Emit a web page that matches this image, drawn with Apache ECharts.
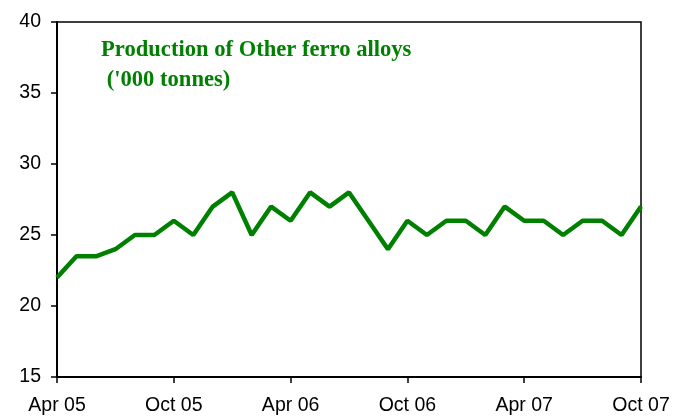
<!DOCTYPE html>
<html>
<head>
<meta charset="utf-8">
<script src="https://cdn.jsdelivr.net/npm/echarts@6/dist/echarts.min.js"></script>
<style>
  html, body { margin: 0; padding: 0; background: #fff; }
  #chart { width: 679px; height: 418px; }
</style>
</head>
<body>
<div id="chart"></div>
<script>
// Monthly production, Apr 2005 – Oct 2007
const months = [
  'Apr 05','May 05','Jun 05','Jul 05','Aug 05','Sep 05','Oct 05','Nov 05','Dec 05','Jan 06','Feb 06','Mar 06',
  'Apr 06','May 06','Jun 06','Jul 06','Aug 06','Sep 06','Oct 06','Nov 06','Dec 06','Jan 07','Feb 07','Mar 07',
  'Apr 07','May 07','Jun 07','Jul 07','Aug 07','Sep 07','Oct 07'
];
const production = [
  22, 23.5, 23.5, 24, 25, 25, 26, 25, 27, 28, 25, 27,
  26, 28, 27, 28, 26, 24, 26, 25, 26, 26, 25, 27,
  26, 26, 25, 26, 26, 25, 27
];
const titleLines = ['Production of Other ferro alloys', " ('000 tonnes)"];

const chart = echarts.init(document.getElementById('chart'));
chart.setOption({
  animation: false,
  backgroundColor: '#fff',
  grid: {
    left: 57, right: 38, top: 22, bottom: 41,
    show: true, borderColor: '#000', borderWidth: 1.5
  },
  title: {
    text: titleLines.join('\n'),
    left: 96, top: 30,
    textStyle: {
      fontFamily: '"Liberation Serif", "Times New Roman", serif',
      fontWeight: 'bold', fontSize: 22.6, color: '#008000', lineHeight: 30
    }
  },
  xAxis: {
    type: 'category',
    data: months,
    boundaryGap: false,
    axisLine: { lineStyle: { color: '#000', width: 2 } },
    axisTick: { interval: 5, length: 6, lineStyle: { color: '#000', width: 1.5 } },
    axisLabel: {
      interval: 5, margin: 19, color: '#000', fontSize: 19.5,
      fontFamily: '"Liberation Sans", Arial, sans-serif'
    },
    splitLine: { show: false }
  },
  yAxis: {
    type: 'value',
    min: 15, max: 40, interval: 5,
    axisLine: { show: true, lineStyle: { color: '#000', width: 2 } },
    axisTick: { show: true, length: 6, lineStyle: { color: '#000', width: 1.5 } },
    axisLabel: {
      margin: 16, color: '#000', fontSize: 19.5,
      fontFamily: '"Liberation Sans", Arial, sans-serif'
    },
    splitLine: { show: false }
  },
  series: [{
    type: 'line',
    data: production,
    symbol: 'none',
    lineStyle: { color: '#008000', width: 4.5 },
    z: 3
  }]
});
</script>
</body>
</html>
